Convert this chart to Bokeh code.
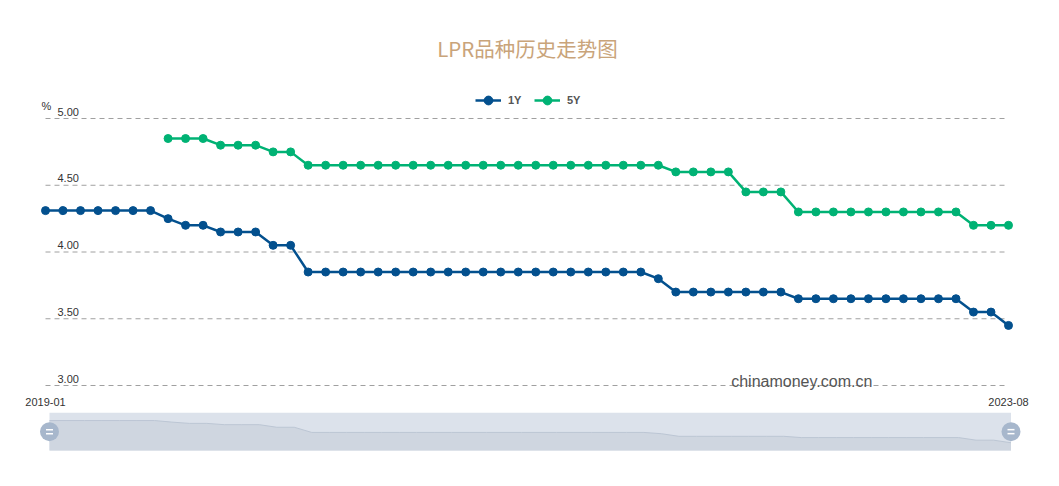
import math
from bokeh.plotting import figure
from bokeh.models import Range1d, Label, Legend, LegendItem
from bokeh.core.properties import value
from bokeh.embed import file_html
from bokeh.resources import INLINE

# ---------------- data ----------------
months = [
    "2019-01", "2019-02", "2019-03", "2019-04", "2019-05", "2019-06", "2019-07", "2019-08",
    "2019-09", "2019-10", "2019-11", "2019-12", "2020-01", "2020-02", "2020-03", "2020-04",
    "2020-05", "2020-06", "2020-07", "2020-08", "2020-09", "2020-10", "2020-11", "2020-12",
    "2021-01", "2021-02", "2021-03", "2021-04", "2021-05", "2021-06", "2021-07", "2021-08",
    "2021-09", "2021-10", "2021-11", "2021-12", "2022-01", "2022-02", "2022-03", "2022-04",
    "2022-05", "2022-06", "2022-07", "2022-08", "2022-09", "2022-10", "2022-11", "2022-12",
    "2023-01", "2023-02", "2023-03", "2023-04", "2023-05", "2023-06", "2023-07", "2023-08",
]
NA = float("nan")
lpr_1y = [
    4.31, 4.31, 4.31, 4.31, 4.31, 4.31, 4.31, 4.25,
    4.20, 4.20, 4.15, 4.15, 4.15, 4.05, 4.05, 3.85,
    3.85, 3.85, 3.85, 3.85, 3.85, 3.85, 3.85, 3.85,
    3.85, 3.85, 3.85, 3.85, 3.85, 3.85, 3.85, 3.85,
    3.85, 3.85, 3.85, 3.80, 3.70, 3.70, 3.70, 3.70,
    3.70, 3.70, 3.70, 3.65, 3.65, 3.65, 3.65, 3.65,
    3.65, 3.65, 3.65, 3.65, 3.65, 3.55, 3.55, 3.45,
]
lpr_5y = [
    NA, NA, NA, NA, NA, NA, NA, 4.85,
    4.85, 4.85, 4.80, 4.80, 4.80, 4.75, 4.75, 4.65,
    4.65, 4.65, 4.65, 4.65, 4.65, 4.65, 4.65, 4.65,
    4.65, 4.65, 4.65, 4.65, 4.65, 4.65, 4.65, 4.65,
    4.65, 4.65, 4.65, 4.65, 4.60, 4.60, 4.60, 4.60,
    4.45, 4.45, 4.45, 4.30, 4.30, 4.30, 4.30, 4.30,
    4.30, 4.30, 4.30, 4.30, 4.30, 4.20, 4.20, 4.20,
]
y_ticks = [3.0, 3.5, 4.0, 4.5, 5.0]
y_tick_labels = ["3.00", "3.50", "4.00", "4.50", "5.00"]
x_tick_labels = [months[0], months[-1]]
title_text = "LPR品种历史走势图"
unit_text = "%"
watermark = "chinamoney.com.cn"
series_names = ["1Y", "5Y"]

# ---------------- geometry ----------------
W, H = 1043, 470
n = len(months)
idx = list(range(n))
FX0, FX1 = 45.0, 1008.0          # px of first / last month
FY_HI, FY_LO = 118.0, 385.0      # px of top / bottom tick
PXX = (FX1 - FX0) / (n - 1)
PXY = (FY_LO - FY_HI) / (y_ticks[-1] - y_ticks[0])
x_start = -FX0 / PXX
x_end = (n - 1) + (W - FX1) / PXX
y_top = y_ticks[-1] + FY_HI / PXY
y_bot = y_ticks[0] - (H - FY_LO) / PXY


def dx(fx):
    return x_start + fx / PXX


def dy(fy):
    return y_top - fy / PXY


# slider (data zoom) geometry
SX0, SX1 = 49.0, 1010.5
SY_T, SY_B = 412.3, 450.0
s_lo = min(lpr_1y) - 0.3
s_hi = max(lpr_1y) + 0.3
SPXX = (SX1 - SX0) / (n - 1)
SPXY = (SY_B - SY_T) / (s_hi - s_lo)
sx_start = -SX0 / SPXX
sx_end = (n - 1) + (W - SX1) / SPXX
sy_top = s_hi + SY_T / SPXY
sy_bot = s_lo - (H - SY_B) / SPXY

C1 = "#03508E"
C2 = "#00B274"

p = figure(width=W, height=H, output_backend="svg", toolbar_location=None,
           x_range=Range1d(x_start, x_end), y_range=Range1d(y_bot, y_top),
           x_axis_location=None, y_axis_location=None, min_border=0,
           outline_line_color=None, background_fill_color="white",
           border_fill_color="white")
p.grid.visible = False
p.extra_x_ranges["sx"] = Range1d(sx_start, sx_end)
p.extra_y_ranges["sy"] = Range1d(sy_bot, sy_top)

# grid lines
p.segment(x0=[0] * len(y_ticks), x1=[n - 1] * len(y_ticks), y0=y_ticks, y1=y_ticks,
          line_color="#a0a0a0", line_width=1, line_dash="5 4")

# y tick labels
p.text(x=[0] * len(y_ticks), y=y_ticks, text=y_tick_labels, x_offset=12, y_offset=-7,
       text_align="left", text_baseline="alphabetic", text_font=value("Liberation Sans"),
       text_font_size="11px", text_color="#333333")
p.text(x=[0], y=[y_ticks[-1]], text=[unit_text], x_offset=1, y_offset=-13,
       text_align="center", text_baseline="alphabetic", text_font=value("Liberation Sans"),
       text_font_size="11px", text_color="#333333")

# x tick labels (ends)
p.text(x=[0, n - 1], y=[y_ticks[0]] * 2, text=x_tick_labels, y_offset=16,
       text_align="center", text_baseline="alphabetic", text_font=value("Liberation Sans"),
       text_font_size="11px", text_color="#333333")

# series
l1 = p.line(idx, lpr_1y, line_color=C1, line_width=2.5)
s1 = p.scatter(idx, lpr_1y, size=8, fill_color=C1, line_color=C1)
l2 = p.line(idx, lpr_5y, line_color=C2, line_width=2.5)
s2 = p.scatter(idx, lpr_5y, size=8, fill_color=C2, line_color=C2)

# watermark
p.add_layout(Label(x=dx(730.7), y=dy(381.0), text=watermark, text_align="left",
                   text_baseline="alphabetic", text_font="Liberation Sans",
                   text_font_size="16px", text_color="#555555"))

# title
p.add_layout(Label(x=dx(527.0), y=dy(47.8), text=title_text, text_align="center",
                   text_baseline="middle", text_font="Noto Sans CJK SC",
                   text_font_size="20.5px", text_color="#C9A47A"))

# legend
legend = Legend(items=[LegendItem(label=series_names[0], renderers=[l1, s1]),
                       LegendItem(label=series_names[1], renderers=[l2, s2])],
                orientation="horizontal", location=(475, H - 111),
                glyph_width=26, glyph_height=22, label_standoff=7, label_width=20,
                label_height=22, spacing=6, padding=0, margin=0,
                border_line_color=None, background_fill_alpha=0,
                label_text_font="Liberation Sans", label_text_font_size="11px",
                label_text_color="#555555", label_text_font_style="bold")
p.add_layout(legend)

# data-zoom slider
p.quad(left=[0], right=[n - 1], bottom=[s_lo], top=[s_hi], x_range_name="sx",
       y_range_name="sy", fill_color="#DCE2EB", line_color=None)
p.varea(x=idx, y1=[s_lo] * n, y2=lpr_1y, x_range_name="sx", y_range_name="sy",
        fill_color="#CFD6E0")
p.line(idx, lpr_1y, x_range_name="sx", y_range_name="sy", line_color="#BCC6D4",
       line_width=1)
s_mid = (s_lo + s_hi) / 2.0
p.scatter([0, n - 1], [s_mid, s_mid], x_range_name="sx", y_range_name="sy", size=19,
          fill_color="#A7B7CC", line_color=None)
bar = 2.0 / SPXY
p.rect(x=[0, 0, n - 1, n - 1], y=[s_mid - bar, s_mid + bar, s_mid - bar, s_mid + bar],
       width=7, height=1.5, width_units="screen", height_units="screen",
       x_range_name="sx", y_range_name="sy", fill_color="white", line_color=None)

open("out.html", "w").write(file_html(p, INLINE))
